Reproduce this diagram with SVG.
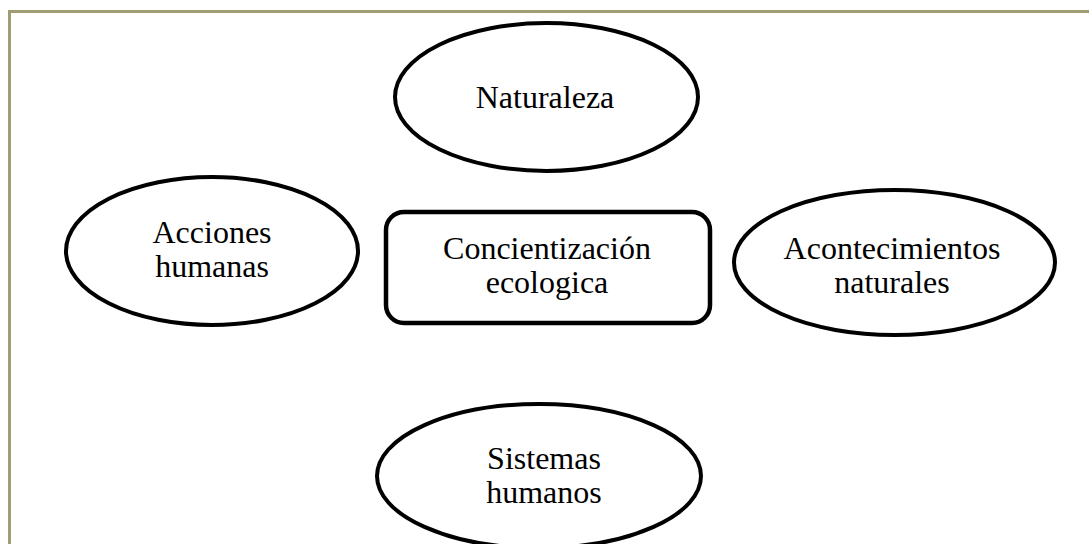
<svg xmlns="http://www.w3.org/2000/svg" width="1089" height="544" viewBox="0 0 1089 544">
  <style>
    .shape { fill: #ffffff; stroke: #000000; stroke-width: 4; }
    .box { fill: #ffffff; stroke: #000000; stroke-width: 4.5; }
    .label { font-family: "Liberation Serif", "Times New Roman", serif; font-size: 32px; fill: #000000; text-anchor: middle; }
    .frame { fill: none; stroke: #a09d72; stroke-width: 3; }
  </style>
  <rect x="0" y="0" width="1089" height="544" fill="#ffffff"/>
  <path class="frame" d="M9.5,546 L9.5,11.5 L1092,11.5"/>
  <g id="connectors"></g>
  <g id="node-naturaleza">
    <ellipse class="shape" cx="546.5" cy="97" rx="151.5" ry="74"/>
    <text class="label" x="545" y="108">Naturaleza</text>
  </g>
  <g id="node-concientizacion">
    <rect class="box" x="386" y="212" width="324" height="111" rx="18" ry="18"/>
    <text class="label" x="547" y="259">Concientización</text>
    <text class="label" x="547" y="293">ecologica</text>
  </g>
  <g id="node-acciones">
    <ellipse class="shape" cx="212" cy="251" rx="146" ry="74"/>
    <text class="label" x="212" y="243">Acciones</text>
    <text class="label" x="212" y="277">humanas</text>
  </g>
  <g id="node-acontecimientos">
    <ellipse class="shape" cx="894.5" cy="262.5" rx="160.5" ry="72.5"/>
    <text class="label" x="892" y="259">Acontecimientos</text>
    <text class="label" x="892" y="293">naturales</text>
  </g>
  <g id="node-sistemas">
    <ellipse class="shape" cx="539" cy="476" rx="162" ry="72"/>
    <text class="label" x="544" y="469">Sistemas</text>
    <text class="label" x="544" y="503">humanos</text>
  </g>
</svg>
